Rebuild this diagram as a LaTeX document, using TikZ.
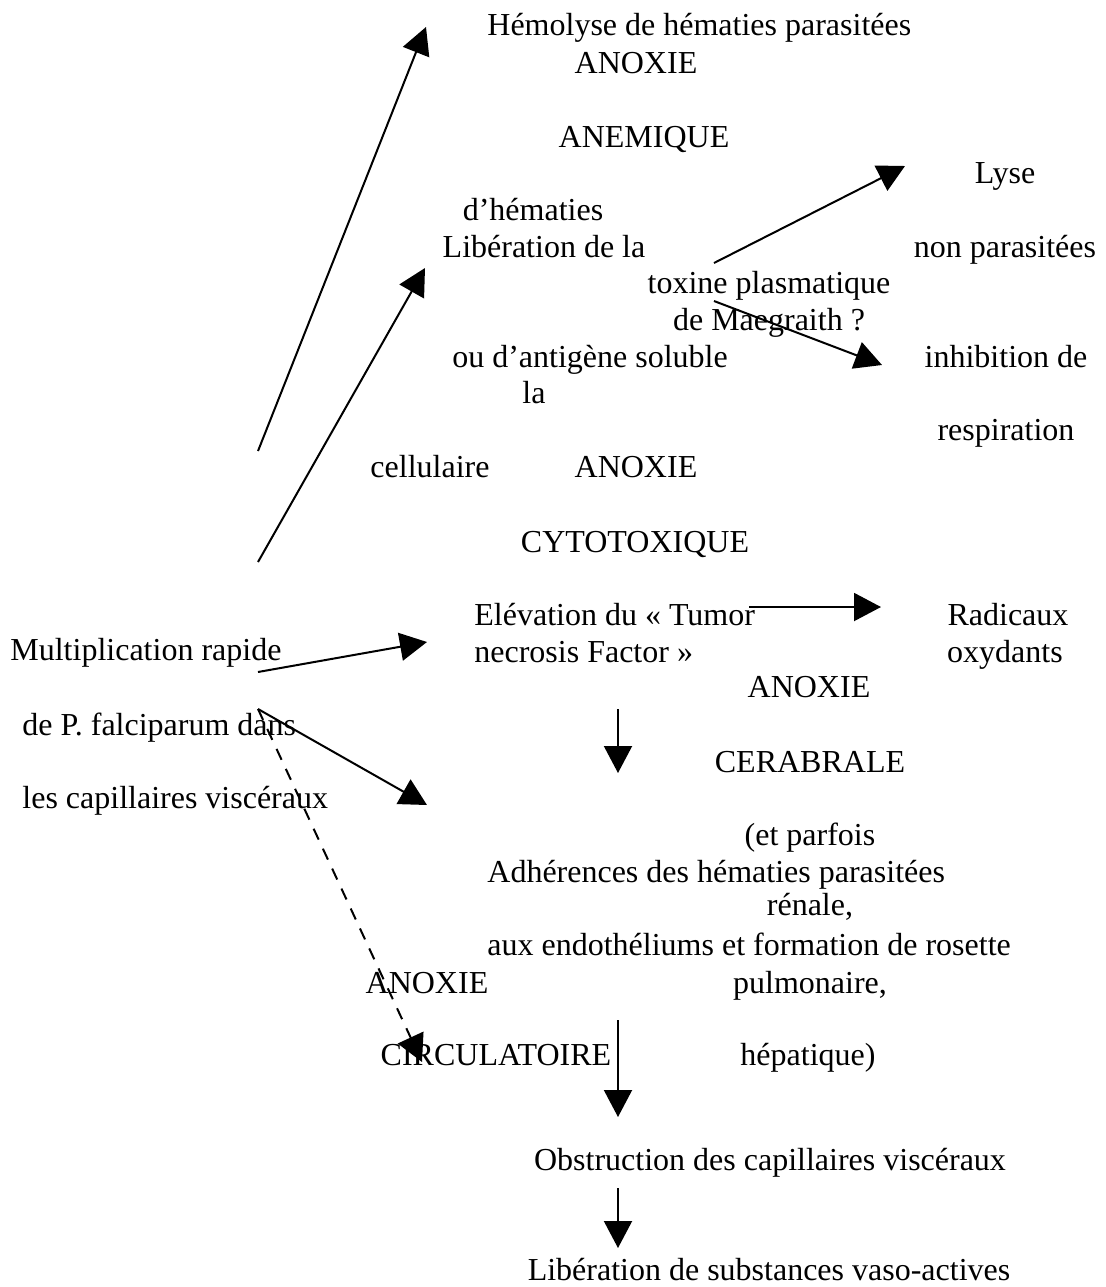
\documentclass[tikz,border=0pt]{standalone}
\usepackage{fontspec}
\setmainfont{Liberation Serif}
\usetikzlibrary{arrows.meta, positioning}

\begin{document}
\begin{tikzpicture}[x=0.5pt, y=-0.5pt,
  every node/.style = {inner sep=0pt, anchor=base, font=\fontsize{16}{19}\selectfont},
  txtl/.style = {anchor=base west},
  fleche/.style = {line width=1pt, -{Triangle[length=13.5pt, width=14pt]}},
  tirets/.style = {fleche, dash pattern=on 6pt off 5pt}]

  \useasboundingbox (0,0) rectangle (1106,1287);

  \node[txtl] (hemo) at (487,35) {Hémolyse de hématies parasitées};
  \node (anox1) at (636,73) {ANOXIE};
  \node (anem) at (644,147) {ANEMIQUE};
  \node (lyse) at (1005,183) {Lyse};
  \node (dhem) at (533,220) {d’hématies};
  \node (lib) at (544,257) {Libération de la};
  \node (nonp) at (1005,257) {non parasitées};
  \node (tox) at (769,293) {toxine plasmatique};
  \node (maeg) at (769,330) {de Maegraith ?};
  \node (antig) at (590,367) {ou d’antigène soluble};
  \node (inhib) at (1006,367) {inhibition de};
  \node (la) at (534,403) {la};
  \node (resp) at (1006,440) {respiration};
  \node (cell) at (430,477) {cellulaire};
  \node (anox2) at (636,477) {ANOXIE};
  \node (cyto) at (635,552) {CYTOTOXIQUE};
  \node[txtl] (tnf) at (474,625) {Elévation du « Tumor};
  \node[txtl] (necr) at (474,662) {necrosis Factor »};
  \node (radic) at (1008,625) {Radicaux};
  \node (oxyd) at (1005,662) {oxydants};
  \node[txtl] (mult) at (10,660) {Multiplication rapide};
  \node (anox3) at (809,697) {ANOXIE};
  \node[txtl] (falc) at (22,735) {de P. falciparum dans};
  \node (cereb) at (810,772) {CERABRALE};
  \node[txtl] (capi) at (22,808) {les capillaires viscéraux};
  \node (parf) at (810,845) {(et parfois};
  \node[txtl] (adh) at (487,882) {Adhérences des hématies parasitées};
  \node (renal) at (810,915) {rénale,};
  \node[txtl] (endo) at (487,955) {aux endothéliums et formation de rosette};
  \node (anox4) at (427,993) {ANOXIE};
  \node (pulm) at (810,993) {pulmonaire,};
  \node (circ) at (496,1065) {CIRCULATOIRE};
  \node (hepat) at (808,1065) {hépatique)};
  \node (obst) at (770,1170) {Obstruction des capillaires viscéraux};
  \node (subst) at (769,1280) {Libération de substances vaso-actives};

  \coordinate (d1) at (258,451);  \coordinate (f1) at (426,27);
  \coordinate (d2) at (258,562);  \coordinate (f2) at (425,268);
  \coordinate (d3) at (714,263);  \coordinate (f3) at (905,166);
  \coordinate (d4) at (714,301);  \coordinate (f4) at (882,365);
  \coordinate (d5) at (258,672);  \coordinate (f5) at (427,642);
  \coordinate (d6) at (258,709);  \coordinate (f6) at (427,805);
  \coordinate (f7) at (422,1062);
  \coordinate (d8) at (749,607);  \coordinate (f8) at (881,607);
  \coordinate (d9) at (618,709);  \coordinate (f9) at (618,773);
  \coordinate (d10) at (618,1020); \coordinate (f10) at (618,1117);
  \coordinate (d11) at (618,1188); \coordinate (f11) at (618,1248);

  \draw[fleche] (d1) -- (f1);
  \draw[fleche] (d2) -- (f2);
  \draw[fleche] (d3) -- (f3);
  \draw[fleche] (d4) -- (f4);
  \draw[fleche] (d5) -- (f5);
  \draw[fleche] (d6) -- (f6);
  \draw[tirets] (d6) -- (f7);
  \draw[fleche] (d8) -- (f8);
  \draw[fleche] (d9) -- (f9);
  \draw[fleche] (d10) -- (f10);
  \draw[fleche] (d11) -- (f11);
\end{tikzpicture}
\end{document}
